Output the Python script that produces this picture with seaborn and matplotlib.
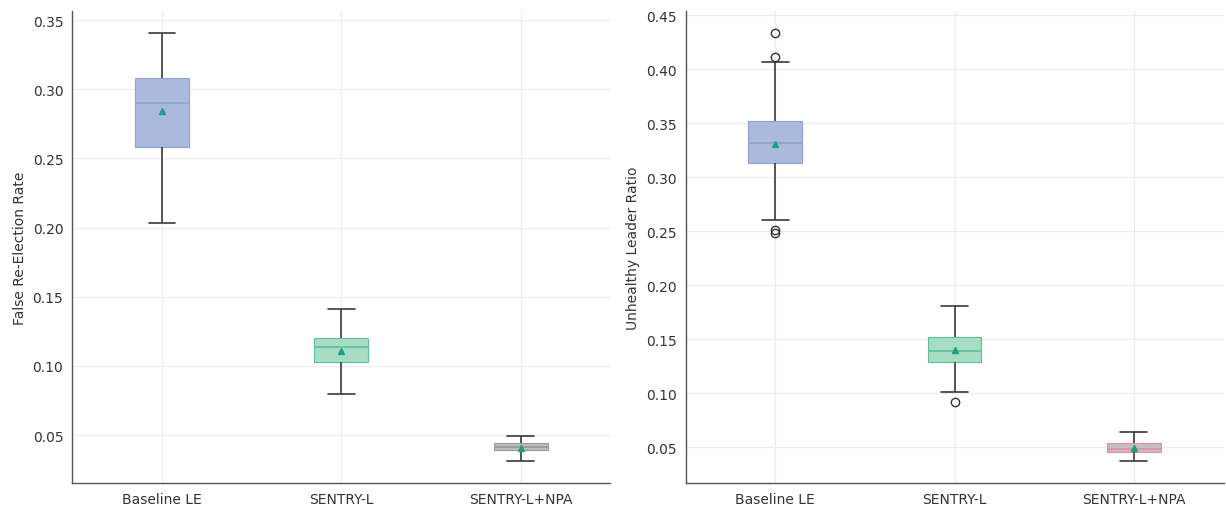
import pandas as pd
import matplotlib
matplotlib.use("Agg")
import matplotlib.pyplot as plt
import seaborn as sns


# DATA

methods = ["Baseline LE", "SENTRY-L", "SENTRY-L+NPA"]

# False re-election rate, per run
fre_baseline = [0.203, 0.240, 0.258, 0.280, 0.290, 0.300, 0.308, 0.336, 0.341]
fre_sentry   = [0.080, 0.095, 0.103, 0.108, 0.114, 0.117, 0.120, 0.121, 0.141]
fre_npa      = [0.031, 0.033, 0.039, 0.039, 0.041, 0.042, 0.0445, 0.045, 0.049]

# Unhealthy leader ratio, per run
ulr_baseline = [0.248, 0.251, 0.260, 0.313, 0.314, 0.315, 0.332,
                0.333, 0.333, 0.352, 0.407, 0.411, 0.434]
ulr_sentry   = [0.092, 0.101, 0.129, 0.135, 0.139, 0.150, 0.152, 0.181, 0.181]
ulr_npa      = [0.037, 0.042, 0.046, 0.047, 0.048, 0.049, 0.054, 0.054, 0.064]

box_colors    = ["#abb9dd", "#a7dcc5", "#bcbcbc"]
median_colors = ["#8ea2d2", "#5fbf9c", "#9a9a9a"]
box_colors_r    = ["#abb9dd", "#a7dcc5", "#c6bec2"]
median_colors_r = ["#8ea2d2", "#5fbf9c", "#e58fa3"]


def to_long(values_by_method, col):
    rows = []
    for m, vals in zip(methods, values_by_method):
        rows += [{"method": m, col: v} for v in vals]
    return pd.DataFrame(rows)


fre = to_long([fre_baseline, fre_sentry, fre_npa], "rate")
ulr = to_long([ulr_baseline, ulr_sentry, ulr_npa], "ratio")


# PLOT

sns.set_style("whitegrid")
plt.rcParams["font.family"] = ["DejaVu Sans"]
plt.rcParams["font.size"] = 10

fig, axes = plt.subplots(1, 2, figsize=(12.26, 5.06), dpi=100)


def draw_panel(ax, df, col, ylabel, fills, medians):
    for m, fc, mc in zip(methods, fills, medians):
        sns.boxplot(
            data=df[df["method"] == m], x="method", y=col, order=methods,
            ax=ax, width=0.3, color=fc, saturation=1, showmeans=True,
            linewidth=1.2,
            boxprops={"edgecolor": mc, "linewidth": 0.8},
            medianprops={"color": mc, "linewidth": 1.2},
            whiskerprops={"color": "#3a3a3a", "linewidth": 1.2},
            capprops={"color": "#3a3a3a", "linewidth": 1.2},
            flierprops={"marker": "o", "markerfacecolor": "none",
                        "markeredgecolor": "#333333", "markersize": 6},
            meanprops={"marker": "^", "markerfacecolor": "#1f9e8a",
                       "markeredgecolor": "#1f9e8a", "markersize": 5},
        )
    ax.set_xlabel("")
    ax.set_ylabel(ylabel, color="#333333")
    ax.grid(True, color="#ececec", linewidth=0.8)
    for side in ["top", "right"]:
        ax.spines[side].set_visible(False)
    for side in ["left", "bottom"]:
        ax.spines[side].set_color("#555555")
        ax.spines[side].set_linewidth(1.0)
    ax.tick_params(axis="both", direction="out", length=3, width=0.8,
                   color="#888888", labelcolor="#333333", labelsize=10)


draw_panel(axes[0], fre, "rate", "False Re-Election Rate", box_colors, median_colors)
draw_panel(axes[1], ulr, "ratio", "Unhealthy Leader Ratio", box_colors_r, median_colors_r)

axes[0].set_yticks([0.05, 0.10, 0.15, 0.20, 0.25, 0.30, 0.35])
axes[1].set_yticks([0.05, 0.10, 0.15, 0.20, 0.25, 0.30, 0.35, 0.40, 0.45])
for ax in axes:
    ax.yaxis.set_major_formatter(matplotlib.ticker.FormatStrFormatter("%.2f"))

plt.subplots_adjust(left=0.059, right=0.998, top=0.976, bottom=0.044, wspace=0.14)
plt.savefig("out.png", dpi=100)
plt.close()
